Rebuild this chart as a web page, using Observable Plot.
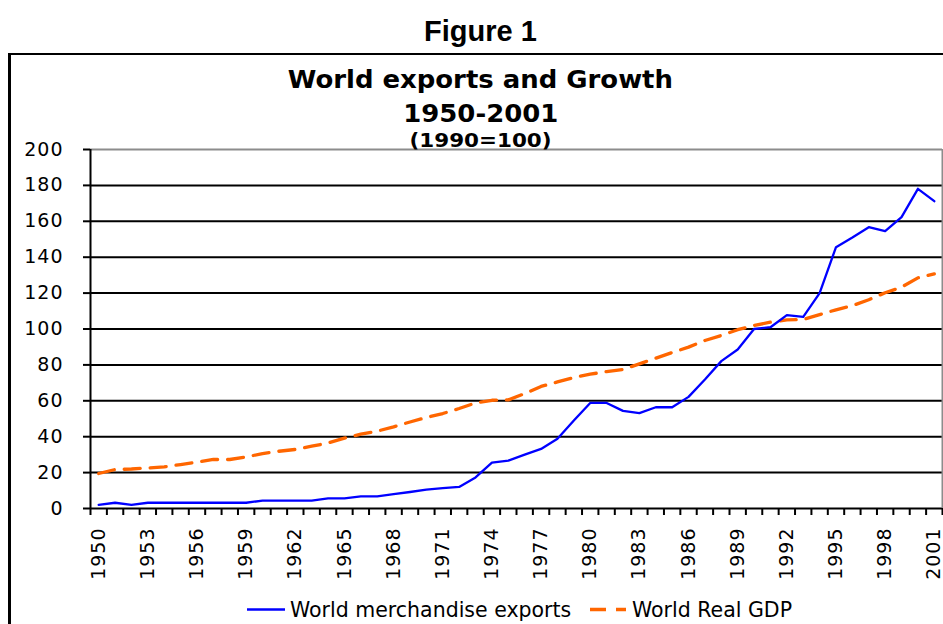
<!DOCTYPE html>
<html>
<head>
<meta charset="utf-8">
<script src="https://cdn.jsdelivr.net/npm/d3@7"></script>
<script src="https://cdn.jsdelivr.net/npm/@observablehq/plot@0.6"></script>
<style>
  body { margin: 0; background: #fff; }
  #fig { position: relative; width: 943px; height: 624px; overflow: hidden; background: #fff; }
  #box { position: absolute; left: 8px; top: 53px; width: 1000px; height: 700px;
         border-left: 3px solid #000; border-top: 2.5px solid #000; }
  #chart { position: absolute; left: 0; top: 0; }
  #chart svg text { letter-spacing: 1px; }
  .t { position: absolute; left: 9px; width: 943px; height: 1px; text-align: center; line-height: 1; color: #000; white-space: nowrap; }
  .t span { display: inline-block; transform-origin: center; }
  .fig { font: bold 29px "Liberation Sans", Arial, sans-serif; }
  .main { font: bold 24px "DejaVu Sans", Verdana, sans-serif; }
  .sub { font: bold 19.5px "DejaVu Sans", Verdana, sans-serif; }
  .stretch { transform: scaleX(1.08); }
  .stretch2 { transform: scaleX(1.1); }
  .lg { position: absolute; font: 20.5px "DejaVu Sans", Verdana, sans-serif; line-height: 1; color: #000; white-space: nowrap; }
  .sw { position: absolute; }
</style>
</head>
<body>
<div id="fig">
  <div id="box"></div>
  <div id="chart"></div>
  <div class="t fig" style="top:15px"><span>Figure 1</span></div>
  <div class="t main" style="top:66px"><span class="stretch">World exports and Growth</span></div>
  <div class="t main" style="top:99.5px"><span class="stretch">1950-2001</span></div>
  <div class="t sub" style="top:128.5px"><span class="stretch2">(1990=100)</span></div>
  <svg class="sw" style="left:247px; top:605px" width="40" height="10">
    <line x1="0" x2="38" y1="4.5" y2="4.5" stroke="#0000ff" stroke-width="2.3"/>
  </svg>
  <div class="lg" style="left:290px; top:600px">World merchandise exports</div>
  <svg class="sw" style="left:590px; top:605px" width="40" height="10">
    <line x1="0" x2="36" y1="4.5" y2="4.5" stroke="#ff6600" stroke-width="3.3" stroke-dasharray="16,10"/>
  </svg>
  <div class="lg" style="left:632px; top:600px">World Real GDP</div>
</div>
<script>
// Years on the category axis
const years = [1950, 1951, 1952, 1953, 1954, 1955, 1956, 1957, 1958, 1959,
  1960, 1961, 1962, 1963, 1964, 1965, 1966, 1967, 1968, 1969,
  1970, 1971, 1972, 1973, 1974, 1975, 1976, 1977, 1978, 1979,
  1980, 1981, 1982, 1983, 1984, 1985, 1986, 1987, 1988, 1989,
  1990, 1991, 1992, 1993, 1994, 1995, 1996, 1997, 1998, 1999,
  2000, 2001];

// World merchandise exports, index 1990 = 100
const exportsIndex = [2.0, 3.2, 2.0, 3.2, 3.2, 3.2, 3.2, 3.2, 3.2, 3.2,
  4.4, 4.4, 4.4, 4.4, 5.6, 5.6, 6.8, 6.8, 8.0, 9.2,
  10.5, 11.3, 12.0, 17.3, 25.6, 26.7, 30.0, 33.2, 38.9, 49.0,
  58.8, 58.8, 54.4, 53.1, 56.4, 56.4, 62.2, 71.9, 82.1, 88.6,
  100.0, 101.0, 107.7, 106.8, 120.0, 145.6, 151.0, 156.7, 154.5, 162.3,
  178.1, 171.2];

// World real GDP, index 1990 = 100
const gdpIndex = [19.5, 21.7, 22.0, 22.6, 23.2, 24.5, 25.8, 27.3, 27.3, 28.7,
  30.6, 31.9, 32.9, 34.7, 36.5, 39.2, 41.4, 43.1, 45.5, 48.2,
  50.7, 52.9, 55.7, 58.8, 60.3, 60.5, 64.0, 68.0, 70.5, 73.0,
  74.8, 76.3, 77.4, 80.6, 83.7, 86.9, 89.9, 93.6, 96.4, 99.6,
  102.0, 103.8, 105.1, 105.3, 108.0, 110.7, 113.0, 116.3, 120.2, 123.3,
  128.5, 130.7];

// Axis tick labels
const yTicks = [0, 20, 40, 60, 80, 100, 120, 140, 160, 180, 200];
const yearLabels = [1950, 1953, 1956, 1959, 1962, 1965, 1968, 1971, 1974, 1977,
  1980, 1983, 1986, 1989, 1992, 1995, 1998, 2001];

const exportRows = years.map((year, i) => ({year, value: exportsIndex[i]}));
const gdpRows = years.map((year, i) => ({year, value: gdpIndex[i]}));

// Category boundaries: each year occupies one slot, ticks sit between slots
const first = years[0] - 0.5;
const last = years[years.length - 1] + 0.5;
const slotEdges = years.map(y => y - 0.5).concat([last]);

const chart = Plot.plot({
  width: 943,
  height: 624,
  marginLeft: 90,
  marginRight: 1,
  marginTop: 149,
  marginBottom: 116,
  style: {fontFamily: "'DejaVu Sans', Verdana, sans-serif", fontSize: "19px", color: "#000", background: "transparent", overflow: "visible"},
  x: {domain: [first, last]},
  y: {domain: [0, 200]},
  marks: [
    Plot.ruleY(yTicks.filter(d => d < 200), {stroke: "#000", strokeWidth: 2}),
    Plot.ruleY([200], {stroke: "#8c8c8c", strokeWidth: 2}),
    Plot.ruleX([last], {stroke: "#8c8c8c", strokeWidth: 2}),
    Plot.ruleX([first], {stroke: "#000", strokeWidth: 2}),
    Plot.axisY(yTicks, {tickSize: 7, tickPadding: 20, tickFormat: d => String(d), strokeWidth: 2, label: null}),
    Plot.axisX(slotEdges, {tickSize: 7, tickFormat: () => "", strokeWidth: 2, label: null}),
    Plot.axisX(yearLabels, {tickSize: 0, tickPadding: 19, tickRotate: -90, tickFormat: d => String(d), label: null}),
    Plot.line(gdpRows, {x: "year", y: "value", stroke: "#ff6600", strokeWidth: 3.3, strokeDasharray: "16,10"}),
    Plot.line(exportRows, {x: "year", y: "value", stroke: "#0000ff", strokeWidth: 2.3})
  ]
});
document.getElementById("chart").appendChild(chart);
</script>
</body>
</html>
